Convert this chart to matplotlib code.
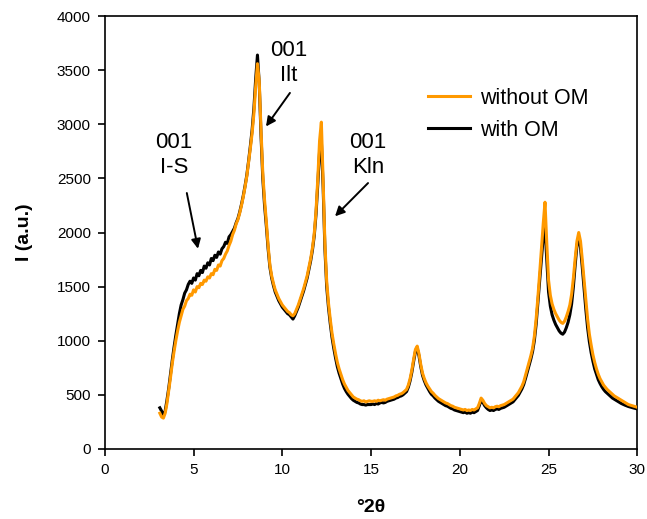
import numpy as np
import matplotlib
matplotlib.use("Agg")
import matplotlib.pyplot as plt

plt.rcParams['font.family'] = ['Liberation Sans', 'DejaVu Sans']

# 2theta grid, 3.1 .. 30.0 deg in 0.1 deg steps
two_theta = np.round(np.arange(31, 301) / 10, 1)

without_om = [
    330, 295, 285, 330, 420, 540, 660, 790, 900, 1000,
    1090, 1170, 1230, 1290, 1320, 1370, 1390, 1430, 1420, 1470,
    1450, 1500, 1490, 1530, 1520, 1560, 1550, 1590, 1580, 1620,
    1610, 1660, 1650, 1700, 1690, 1740, 1760, 1800, 1830, 1880,
    1920, 1980, 2020, 2080, 2120, 2180, 2250, 2330, 2420, 2520,
    2650, 2780, 2920, 3100, 3350, 3560, 3400, 2950, 2550, 2300,
    2100, 1880, 1700, 1600, 1530, 1470, 1430, 1390, 1360, 1330,
    1310, 1290, 1270, 1260, 1240, 1230, 1250, 1290, 1330, 1380,
    1430, 1480, 1540, 1600, 1680, 1760, 1860, 1990, 2200, 2500,
    2850, 3020, 2480, 1900, 1550, 1350, 1200, 1070, 970, 880,
    800, 740, 690, 640, 600, 570, 540, 520, 500, 480,
    470, 460, 455, 445, 440, 445, 435, 440, 445, 440,
    440, 445, 440, 450, 445, 450, 455, 450, 460, 465,
    470, 475, 480, 490, 495, 505, 510, 520, 535, 550,
    590, 650, 730, 830, 920, 950, 880, 780, 700, 650,
    610, 580, 555, 530, 515, 495, 480, 465, 455, 445,
    435, 425, 420, 410, 400, 395, 385, 380, 375, 370,
    365, 360, 365, 355, 360, 355, 365, 360, 370, 380,
    420, 470, 450, 420, 400, 390, 380, 385, 380, 390,
    395, 390, 400, 405, 410, 420, 430, 440, 450, 460,
    480, 500, 520, 550, 580, 620, 680, 740, 800, 860,
    930, 1040, 1200, 1400, 1620, 1850, 2080, 2280, 1900, 1560,
    1420, 1340, 1290, 1250, 1220, 1190, 1170, 1160, 1180, 1220,
    1270, 1330, 1430, 1580, 1760, 1920, 2000, 1920, 1750, 1560,
    1380, 1200, 1060, 960, 870, 800, 740, 690, 650, 620,
    590, 570, 550, 535, 520, 505, 490, 480, 470, 460,
    450, 440, 430, 420, 410, 405, 400, 395, 390, 385,
]

with_om = [
    380, 350, 310, 350, 450, 560, 690, 820, 940, 1050,
    1150, 1250, 1330, 1380, 1440, 1470, 1520, 1550, 1530, 1580,
    1560, 1620, 1600, 1650, 1630, 1690, 1670, 1720, 1700, 1760,
    1740, 1790, 1770, 1820, 1800, 1850, 1870, 1910, 1900, 1960,
    1980, 2010, 2040, 2090, 2130, 2190, 2260, 2340, 2430, 2530,
    2660, 2800, 2950, 3150, 3420, 3640, 3380, 2900, 2500, 2250,
    2060, 1850, 1680, 1580, 1510, 1450, 1410, 1370, 1340, 1310,
    1290, 1270, 1250, 1240, 1220, 1200, 1230, 1270, 1310, 1360,
    1410, 1460, 1520, 1580, 1660, 1740, 1840, 1970, 2170, 2450,
    2750, 2850, 2420, 1850, 1500, 1310, 1160, 1030, 930, 840,
    760, 700, 650, 600, 560, 530, 505, 485, 465, 450,
    440, 430, 425, 415, 410, 410, 405, 410, 410, 410,
    415, 410, 420, 415, 425, 430, 425, 430, 440, 445,
    450, 455, 460, 470, 475, 485, 490, 500, 515, 530,
    570, 630, 710, 810, 900, 930, 860, 760, 680, 630,
    590, 560, 530, 505, 490, 470, 455, 440, 430, 420,
    410, 400, 395, 385, 375, 370, 360, 355, 350, 345,
    340, 335, 340, 330, 335, 330, 340, 335, 345, 355,
    400, 450, 430, 400, 380, 365, 355, 360, 355, 365,
    370, 365, 375, 380, 385, 395, 405, 415, 425, 435,
    455, 475, 495, 525, 555, 595, 650, 710, 770, 830,
    900, 1000, 1150, 1350, 1560, 1760, 1960, 2050, 1750, 1450,
    1320, 1240, 1190, 1150, 1120, 1090, 1070, 1060, 1080, 1120,
    1170, 1240, 1340, 1500, 1700, 1880, 1960, 1860, 1680, 1480,
    1290, 1120, 990, 890, 810, 740, 690, 640, 605, 575,
    550, 530, 515, 500, 485, 470, 460, 450, 440, 430,
    420, 412, 405, 398, 392, 387, 383, 378, 374, 370,
]

# peak labels: text, text centre, arrow start and tip
labels = ["001\nI-S", "001\nIlt", "001\nKln"]
label_xy = [(3.9, 2720), (10.38, 3570), (14.83, 2720)]
arrow_from = [(4.62, 2365), (10.43, 3290), (14.83, 2457)]
arrow_to = [(5.25, 1850), (9.08, 2980), (12.97, 2150)]

fig = plt.figure(figsize=(6.47, 5.19), dpi=100)
ax = fig.add_axes([0.162, 0.135, 0.823, 0.834])

ax.plot(two_theta, with_om, color='black', lw=2.2, label='with OM', zorder=2)
ax.plot(two_theta, without_om, color='#FF9900', lw=2.2, label='without OM', zorder=3)

for t, xy in zip(labels, label_xy):
    ax.text(xy[0], xy[1], t, ha='center', va='center', fontsize=16, linespacing=1.25)
for a, b in zip(arrow_from, arrow_to):
    ax.annotate('', xy=b, xytext=a,
                arrowprops=dict(arrowstyle='-|>', color='black', lw=1.4,
                                mutation_scale=14, shrinkA=0, shrinkB=0))

ax.set_xlim(0, 30)
ax.set_ylim(0, 4000)
ax.set_xticks(range(0, 31, 5))
ax.set_yticks(range(0, 4001, 500))
ax.tick_params(direction='out', length=5, width=1.2, labelsize=11, pad=5)
for s in ax.spines.values():
    s.set_linewidth(1.2)

ax.set_xlabel('°2θ', fontsize=14, fontweight='bold', labelpad=16)
ax.set_ylabel('I (a.u.)', fontsize=14, fontweight='bold', labelpad=17)

h, l = ax.get_legend_handles_labels()
ax.legend(h[::-1], l[::-1], loc='upper left', bbox_to_anchor=(0.607, 0.834),
          frameon=False, fontsize=15.5, handlelength=1.95, handletextpad=0.45,
          labelspacing=0.5, borderpad=0, borderaxespad=0)

fig.savefig('out.png', dpi=100)
